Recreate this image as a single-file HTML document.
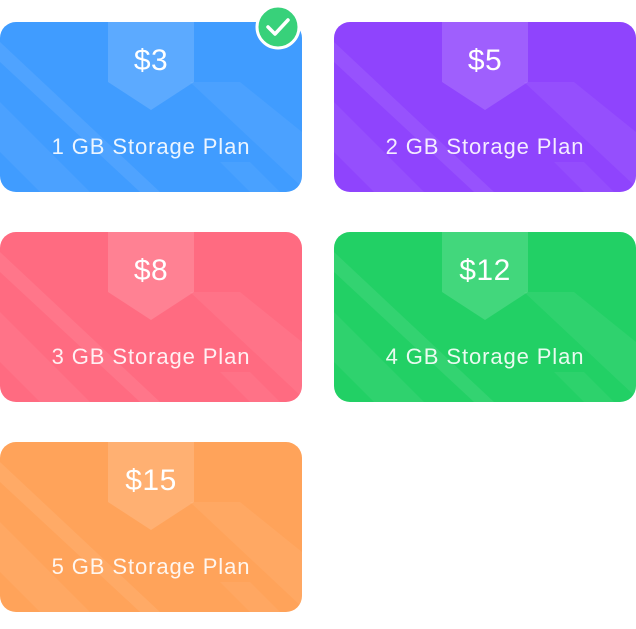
<!DOCTYPE html>
<html><head><style>
body{margin:0;width:636px;height:624px;background:#fff;overflow:hidden}
</style></head><body>
<svg width="636" height="624" viewBox="0 0 636 624" xmlns="http://www.w3.org/2000/svg" font-family="Liberation Sans, sans-serif">
<defs>
<clipPath id="c"><rect x="0" y="0" width="302" height="170" rx="16"/></clipPath>
<g id="stripes">
<polygon points="0,20 0,40 140,170 160,170" fill="#fff" opacity="0.08"/>
<polygon points="0,80 0,130 40,170 90,170" fill="#fff" opacity="0.06"/>
<polygon points="190,60 302,165 302,110 240,60" fill="#fff" opacity="0.06"/>
<polygon points="220,140 250,170 280,170 250,140" fill="#fff" opacity="0.05"/>
</g>
</defs>
<g transform="translate(0,22)"><g clip-path="url(#c)"><rect width="302" height="170" fill="#409cff"/><use href="#stripes"/></g>
<polygon points="108,0 194,0 194,60 151,88 108,60" fill="#fff" opacity="0.15"/>
<text x="151" y="48" text-anchor="middle" fill="#fff" font-size="30" letter-spacing="0.5">$3</text>
<text x="151" y="132" text-anchor="middle" fill="#fff" fill-opacity="0.9" font-size="22" letter-spacing="0.9">1 GB Storage Plan</text></g>
<g transform="translate(334,22)"><g clip-path="url(#c)"><rect width="302" height="170" fill="#8f44fd"/><use href="#stripes"/></g>
<polygon points="108,0 194,0 194,60 151,88 108,60" fill="#fff" opacity="0.15"/>
<text x="151" y="48" text-anchor="middle" fill="#fff" font-size="30" letter-spacing="0.5">$5</text>
<text x="151" y="132" text-anchor="middle" fill="#fff" fill-opacity="0.9" font-size="22" letter-spacing="0.9">2 GB Storage Plan</text></g>
<g transform="translate(0,232)"><g clip-path="url(#c)"><rect width="302" height="170" fill="#ff6b81"/><use href="#stripes"/></g>
<polygon points="108,0 194,0 194,60 151,88 108,60" fill="#fff" opacity="0.15"/>
<text x="151" y="48" text-anchor="middle" fill="#fff" font-size="30" letter-spacing="0.5">$8</text>
<text x="151" y="132" text-anchor="middle" fill="#fff" fill-opacity="0.9" font-size="22" letter-spacing="0.9">3 GB Storage Plan</text></g>
<g transform="translate(334,232)"><g clip-path="url(#c)"><rect width="302" height="170" fill="#22d065"/><use href="#stripes"/></g>
<polygon points="108,0 194,0 194,60 151,88 108,60" fill="#fff" opacity="0.15"/>
<text x="151" y="48" text-anchor="middle" fill="#fff" font-size="30" letter-spacing="0.5">$12</text>
<text x="151" y="132" text-anchor="middle" fill="#fff" fill-opacity="0.9" font-size="22" letter-spacing="0.9">4 GB Storage Plan</text></g>
<g transform="translate(0,442)"><g clip-path="url(#c)"><rect width="302" height="170" fill="#ffa35a"/><use href="#stripes"/></g>
<polygon points="108,0 194,0 194,60 151,88 108,60" fill="#fff" opacity="0.15"/>
<text x="151" y="48" text-anchor="middle" fill="#fff" font-size="30" letter-spacing="0.5">$15</text>
<text x="151" y="132" text-anchor="middle" fill="#fff" fill-opacity="0.9" font-size="22" letter-spacing="0.9">5 GB Storage Plan</text></g>
<circle cx="278" cy="27" r="21" fill="#38d17a" stroke="#fff" stroke-width="3"/>
<polyline points="268,27 275,34 288,20" fill="none" stroke="#fff" stroke-width="3.5" stroke-linecap="round" stroke-linejoin="round"/>
</svg>
</body></html>
